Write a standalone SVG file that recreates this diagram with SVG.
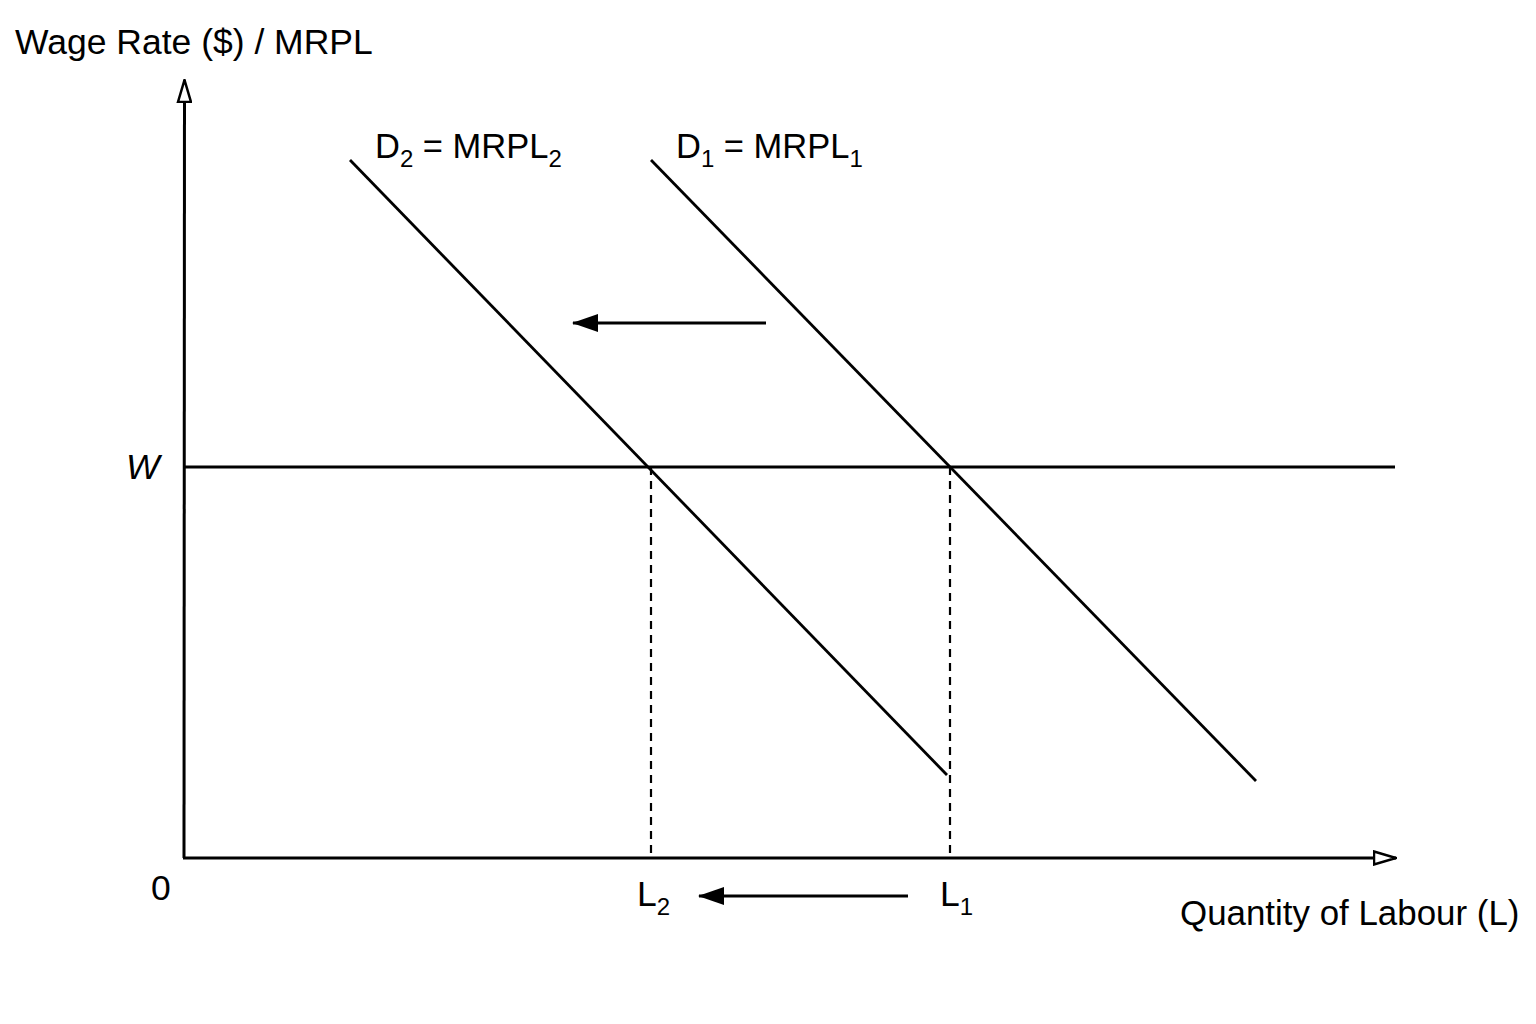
<svg xmlns="http://www.w3.org/2000/svg" width="1536" height="1024" viewBox="0 0 1536 1024">
<defs>
<marker id="open" viewBox="0 0 24 16" refX="23" refY="8" markerWidth="24" markerHeight="16" markerUnits="userSpaceOnUse" orient="auto">
<path d="M1,1.5 L23,8 L1,14.5 Z" fill="#fff" stroke="#000" stroke-width="2.5" stroke-linejoin="miter"/>
</marker>
<marker id="solid" viewBox="0 0 26 18" refX="25" refY="9" markerWidth="26" markerHeight="18" markerUnits="userSpaceOnUse" orient="auto">
<path d="M0,0 L26,9 L0,18 Z" fill="#000"/>
</marker>
<style>
.t{font-family:"Liberation Sans",Arial,sans-serif;font-size:35.5px;fill:#000}
.q{font-size:34.9px}
.d{font-size:34.5px}
.s{font-size:24px}
.ax{stroke:#000;stroke-width:3;fill:none}
.ln{stroke:#000;stroke-width:2.8;fill:none}
.dash{stroke:#000;stroke-width:2.2;stroke-dasharray:8,6;fill:none}
</style>
</defs>
<rect width="1536" height="1024" fill="#fff"/>
<g id="axes">
<line class="ax" x1="184" y1="858" x2="184.5" y2="80" marker-end="url(#open)"/>
<line class="ax" x1="183" y1="858" x2="1396" y2="858" marker-end="url(#open)"/>
</g>
<g id="connectors">
<line class="ln" x1="184" y1="467" x2="1395" y2="467"/>
<line class="ln" x1="350" y1="160" x2="947" y2="775"/>
<line class="ln" x1="651" y1="160" x2="1256" y2="781"/>
<line class="dash" x1="651" y1="467" x2="651" y2="858"/>
<line class="dash" x1="950" y1="467" x2="950" y2="858"/>
<line class="ln" x1="766" y1="323" x2="573" y2="323" marker-end="url(#solid)"/>
<line class="ln" x1="908" y1="896" x2="699" y2="896" marker-end="url(#solid)"/>
</g>
<g id="labels">
<text class="t" x="15" y="54">Wage Rate ($) / MRPL</text>
<text class="t q" x="1180" y="925">Quantity of Labour (L)</text>
<text class="t" x="126" y="479" font-style="italic">W</text>
<text class="t" x="151" y="900">0</text>
<text class="t" x="637" y="906">L<tspan class="s" dy="9">2</tspan></text>
<text class="t" x="940" y="906">L<tspan class="s" dy="9">1</tspan></text>
<text class="t d" x="375" y="158">D<tspan class="s" dy="9">2</tspan><tspan dy="-9"> = MRPL</tspan><tspan class="s" dy="9">2</tspan></text>
<text class="t d" x="676" y="158">D<tspan class="s" dy="9">1</tspan><tspan dy="-9"> = MRPL</tspan><tspan class="s" dy="9">1</tspan></text>
</g>
</svg>
